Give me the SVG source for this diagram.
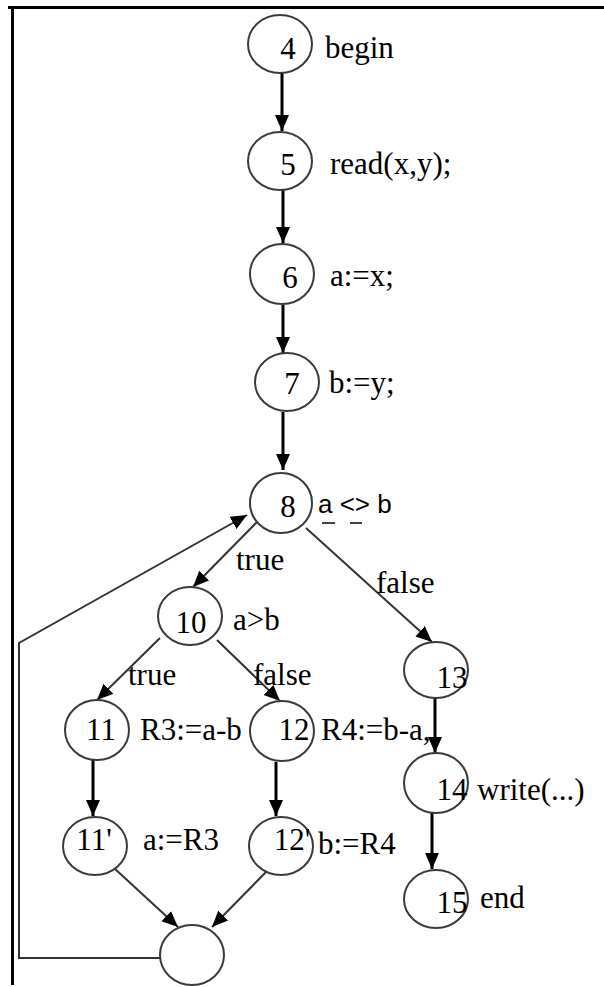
<svg xmlns="http://www.w3.org/2000/svg" width="604" height="987" viewBox="0 0 604 987">
<style>
.n{fill:#fff;stroke:#3a3a3a;stroke-width:2}
.t{font-family:"Liberation Serif","Times New Roman",serif;font-size:31px;fill:#000}
.d{text-anchor:middle}
.s{font-family:"Liberation Sans",Arial,sans-serif;font-size:26px;fill:#000}
.v{stroke:#000;stroke-width:3;fill:none}
.g{stroke:#333;stroke-width:2;fill:none}
</style>
<defs>
<marker id="ah" markerUnits="userSpaceOnUse" markerWidth="18" markerHeight="16" refX="16" refY="7" orient="auto">
<path d="M0,0 L16,7 L0,14 z" fill="#000"/>
</marker>
</defs>
<rect width="604" height="987" fill="#fff"/>
<g id="frame">
<line x1="8" y1="7.5" x2="604" y2="7.5" stroke="#000" stroke-width="3"/>
<line x1="12.5" y1="6" x2="12.5" y2="985" stroke="#000" stroke-width="3"/>
</g>
<g id="connectors">
<line class="v" x1="282" y1="73" x2="282" y2="131" marker-end="url(#ah)"/>
<line class="v" x1="283" y1="190" x2="283" y2="243" marker-end="url(#ah)"/>
<line class="v" x1="283" y1="305" x2="283" y2="353" marker-end="url(#ah)"/>
<line class="v" x1="283" y1="412" x2="283" y2="470" marker-end="url(#ah)"/>
<line class="g" x1="258" y1="521" x2="193" y2="587" marker-end="url(#ah)"/>
<line class="g" x1="306" y1="528" x2="432" y2="642" marker-end="url(#ah)"/>
<polyline class="g" points="160,958 19,958 19,643 247,515" stroke="#555" marker-end="url(#ah)"/>
<line class="g" x1="160" y1="638" x2="97" y2="700" marker-end="url(#ah)"/>
<line class="g" x1="217" y1="640" x2="280" y2="701" marker-end="url(#ah)"/>
<line class="v" x1="93" y1="760" x2="93" y2="816" marker-end="url(#ah)"/>
<line class="v" x1="276" y1="762" x2="276" y2="816" marker-end="url(#ah)"/>
<line class="v" x1="435" y1="698" x2="435" y2="753" marker-end="url(#ah)"/>
<line class="v" x1="432" y1="813" x2="432" y2="869" marker-end="url(#ah)"/>
<line class="g" x1="114" y1="868" x2="178" y2="927" marker-end="url(#ah)"/>
<line class="g" x1="267" y1="871" x2="212" y2="927" marker-end="url(#ah)"/>
</g>
<g id="n4"><ellipse class="n" cx="280" cy="44" rx="32" ry="29"/><text class="t d" x="288" y="59">4</text><text class="t" x="325" y="58">begin</text></g>
<g id="n5"><ellipse class="n" cx="280" cy="161" rx="32" ry="29"/><text class="t d" x="288" y="175">5</text><text class="t" x="330" y="174">read(x,y);</text></g>
<g id="n6"><ellipse class="n" cx="282" cy="274" rx="32" ry="30"/><text class="t d" x="290" y="288">6</text><text class="t" x="330" y="286">a:=x;</text></g>
<g id="n7"><ellipse class="n" cx="287" cy="382" rx="32" ry="29"/><text class="t d" x="292" y="394">7</text><text class="t" x="329" y="393">b:=y;</text></g>
<g id="n8"><ellipse class="n" cx="281" cy="503" rx="31" ry="30"/><text class="t d" x="288" y="517">8</text><text class="s" x="318" y="513">a &lt;&gt; b</text>
<line x1="322" y1="523" x2="335" y2="523" stroke="#444" stroke-width="2"/><line x1="350" y1="523" x2="362" y2="523" stroke="#444" stroke-width="2"/></g>
<text class="t" x="236" y="570">true</text>
<text class="t" x="376" y="593">false</text>
<g id="n10"><ellipse class="n" cx="190" cy="616" rx="32" ry="29"/><text class="t d" x="191" y="633">10</text><text class="t" x="233" y="630">a&gt;b</text></g>
<text class="t" x="128" y="685">true</text>
<text class="t" x="253" y="685">false</text>
<g id="n11"><ellipse class="n" cx="97" cy="730" rx="32" ry="30"/><text class="t d" x="101" y="740">11</text><text class="t" x="140" y="740">R3:=a-b</text></g>
<g id="n12"><ellipse class="n" cx="282" cy="731" rx="32" ry="30"/><text class="t d" x="294" y="740">12</text><text class="t" x="321" y="740">R4:=b-a,</text></g>
<g id="n13"><ellipse class="n" cx="436" cy="670" rx="32" ry="28"/><text class="t d" x="452" y="688">13</text></g>
<g id="n14"><ellipse class="n" cx="436" cy="783" rx="32" ry="30"/><text class="t d" x="452" y="800">14</text><text class="t" x="477" y="800">write(...)</text></g>
<g id="n15"><ellipse class="n" cx="436" cy="899" rx="32" ry="29"/><text class="t d" x="452" y="913">15</text><text class="t" x="480" y="908">end</text></g>
<g id="n11p"><ellipse class="n" cx="95" cy="846" rx="32" ry="29"/><text class="t d" x="94" y="850">11'</text><text class="t" x="143" y="850">a:=R3</text></g>
<g id="n12p"><ellipse class="n" cx="281" cy="846" rx="32" ry="29"/><text class="t d" x="292" y="850">12'</text><text class="t" x="318" y="854">b:=R4</text></g>
<g id="merge"><ellipse class="n" cx="192" cy="955" rx="32" ry="30"/></g>
</svg>
